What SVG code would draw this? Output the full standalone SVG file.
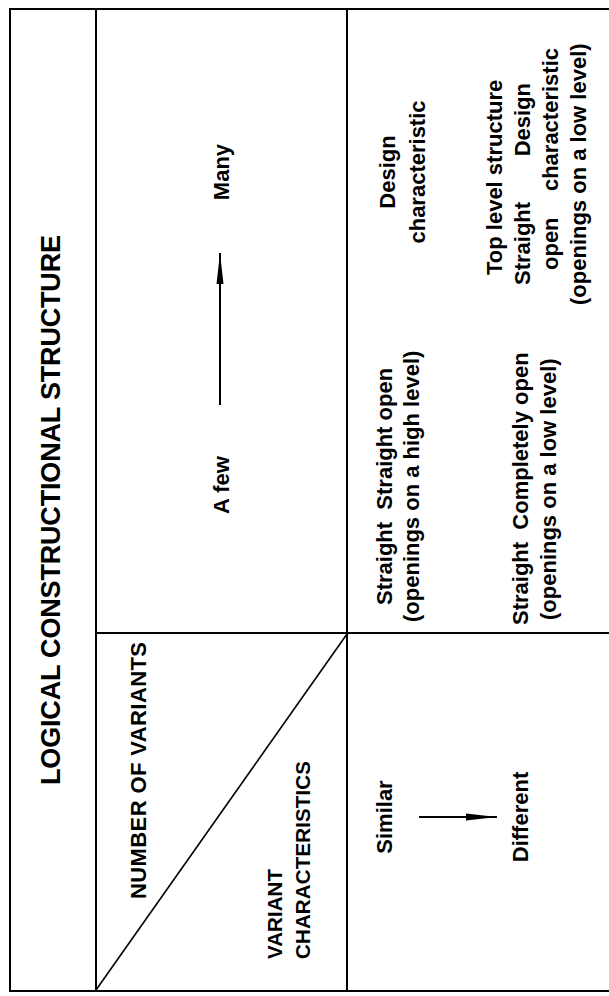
<svg xmlns="http://www.w3.org/2000/svg" width="609" height="996" viewBox="0 0 609 996">
<style>
  .ln { stroke:#000; stroke-width:2; fill:none; stroke-linecap:square; }
  .thin { stroke:#000; stroke-width:1.6; fill:none; }
  text { font-family:"Liberation Sans", Arial, Helvetica, sans-serif; font-weight:bold; fill:#000; white-space:pre; }
  .t22 { font-size:22px; }
  .caps { font-size:20.5px; }
  .mid { text-anchor:middle; }
  .end { text-anchor:end; }
</style>
<defs>
  <marker id="ah" markerUnits="userSpaceOnUse" markerWidth="32" markerHeight="9" refX="31" refY="4.5" orient="auto">
    <path d="M0,1 L31,4.5 L0,8 z" fill="#000"/>
  </marker>
</defs>
<rect width="609" height="996" fill="#fff"/>

<g id="grid">
  <line class="ln" x1="10" y1="9" x2="609" y2="9"/>
  <line class="ln" x1="10" y1="9" x2="10" y2="991"/>
  <line class="ln" x1="10" y1="991" x2="609" y2="991"/>
  <line class="ln" x1="96" y1="9" x2="96" y2="991"/>
  <line class="ln" x1="347" y1="9" x2="347" y2="991"/>
  <line class="ln" x1="96" y1="633" x2="609" y2="633"/>
  <line class="thin" x1="96" y1="990" x2="347" y2="634"/>
</g>

<g id="title">
  <text class="mid" x="60" y="510" font-size="27" textLength="550" transform="rotate(-90 60 510)">LOGICAL CONSTRUCTIONAL STRUCTURE</text>
</g>

<g id="corner">
  <text x="146" y="899" font-size="22" textLength="257" transform="rotate(-90 146 899)">NUMBER OF VARIANTS</text>
  <text class="caps" x="282" y="959" textLength="90" transform="rotate(-90 282 959)">VARIANT</text>
  <text class="caps" x="310" y="959" textLength="198" transform="rotate(-90 310 959)">CHARACTERISTICS</text>
</g>

<g id="number-of-variants">
  <text class="t22 mid" x="229" y="172" transform="rotate(-90 229 172)">Many</text>
  <text class="t22 mid" x="229" y="485" transform="rotate(-90 229 485)">A few</text>
</g>

<g id="variant-characteristics">
  <text class="t22 mid" x="392" y="817" transform="rotate(-90 392 817)">Similar</text>
  <text class="t22 mid" x="528" y="817" transform="rotate(-90 528 817)">Different</text>
</g>

<g id="structures">
  <text class="t22" x="392" y="605" transform="rotate(-90 392 605)">Straight  Straight open</text>
  <text class="t22" x="419" y="622" transform="rotate(-90 419 622)">(openings on a high level)</text>
  <text class="t22" x="528" y="625" transform="rotate(-90 528 625)">Straight  Completely open</text>
  <text class="t22" x="556" y="620" transform="rotate(-90 556 620)">(openings on a low level)</text>
  <text class="t22 mid" x="395" y="172" transform="rotate(-90 395 172)">Design</text>
  <text class="t22 mid" x="425" y="172" transform="rotate(-90 425 172)">characteristic</text>
  <text class="t22" x="502" y="275" transform="rotate(-90 502 275)">Top level structure</text>
  <text class="t22" x="530" y="285" transform="rotate(-90 530 285)">Straight</text>
  <text class="t22 end" x="530" y="83" transform="rotate(-90 530 83)">Design</text>
  <text class="t22" x="558" y="270" transform="rotate(-90 558 270)">open</text>
  <text class="t22 end" x="558" y="48" transform="rotate(-90 558 48)">characteristic</text>
  <text class="t22" x="586" y="305" transform="rotate(-90 586 305)">(openings on a low level)</text>
</g>

<g id="connectors">
  <line stroke="#000" stroke-width="2" x1="220" y1="405" x2="220" y2="253" marker-end="url(#ah)"/>
  <line stroke="#000" stroke-width="2" x1="419" y1="817" x2="497" y2="817" marker-end="url(#ah)"/>
</g>
</svg>
